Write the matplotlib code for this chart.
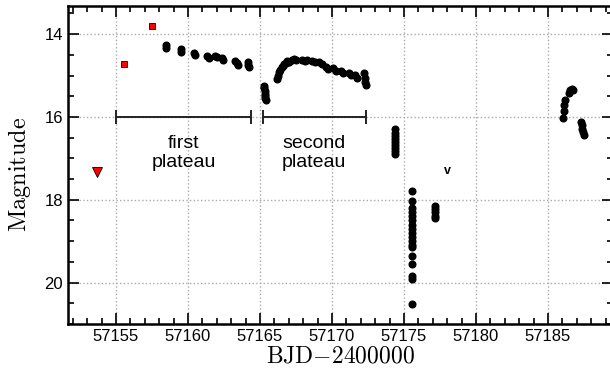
import matplotlib
matplotlib.use('Agg')
import matplotlib.pyplot as plt
from matplotlib.ticker import MultipleLocator

plt.rcParams['font.family'] = ['Liberation Sans', 'DejaVu Sans']
plt.rcParams['mathtext.fontset'] = 'cm'

# Photometry (BJD-2400000, magnitude)
pre_x = [57155.55, 57157.5]
pre_y = [14.72, 13.81]
limit_x = [57153.7]
limit_y = [17.34]

plateau1_x = [57158.45, 57158.5, 57159.5, 57159.55, 57160.45, 57160.5, 57161.35, 57161.45,
              57161.9, 57162.0, 57162.35, 57162.4, 57163.3, 57163.4, 57163.5, 57164.15,
              57164.2, 57164.25]
plateau1_y = [14.27, 14.33, 14.37, 14.42, 14.46, 14.51, 14.53, 14.57,
              14.52, 14.56, 14.58, 14.62, 14.66, 14.70, 14.74, 14.68,
              14.74, 14.79]

dip_x = [57165.3, 57165.3, 57165.32, 57165.35, 57165.35, 57165.38, 57165.4]
dip_y = [15.24, 15.30, 15.38, 15.45, 15.50, 15.55, 15.59]

plateau2_x = [57166.2, 57166.25, 57166.3, 57166.4, 57166.5, 57166.6, 57166.7, 57166.8,
              57166.9, 57167.0, 57167.2, 57167.35, 57167.5, 57167.9, 57168.1, 57168.3,
              57168.6, 57168.8, 57169.1, 57169.3, 57169.6, 57169.7, 57170.1, 57170.3,
              57170.6, 57170.8, 57171.2, 57171.3, 57171.6, 57171.75, 57172.25, 57172.3,
              57172.3, 57172.35]
plateau2_y = [15.08, 15.00, 14.92, 14.86, 14.80, 14.76, 14.72, 14.70,
              14.66, 14.68, 14.63, 14.60, 14.62, 14.63, 14.65, 14.63,
              14.66, 14.68, 14.68, 14.72, 14.80, 14.84, 14.82, 14.88,
              14.88, 14.93, 14.93, 14.99, 14.98, 15.05, 14.95, 15.05,
              15.15, 15.22]

fall_x = [57174.4] * 9 + [57175.53] * 18 + [57177.15] * 5
fall_y = [16.30, 16.38, 16.45, 16.52, 16.60, 16.68, 16.75, 16.82, 16.90,
          17.78, 18.02, 18.20, 18.30, 18.40, 18.50, 18.60, 18.70, 18.80, 18.90,
          19.00, 19.10, 19.15, 19.35, 19.55, 19.85, 19.92, 20.52,
          18.15, 18.22, 18.30, 18.38, 18.45]

late_x = [57186.05, 57186.1, 57186.15, 57186.2, 57186.45, 57186.55, 57186.65, 57186.75,
          57187.3, 57187.35, 57187.4, 57187.45, 57187.5]
late_y = [16.02, 15.85, 15.70, 15.58, 15.42, 15.36, 15.33, 15.36,
          16.12, 16.20, 16.28, 16.36, 16.43]

# plateau brackets
plateau_start = [57155.0, 57165.2]
plateau_end = [57164.4, 57172.35]
plateau_mag = 16.0
plateau_names = ['first\nplateau', 'second\nplateau']

fig = plt.figure(figsize=(6.1, 3.71), dpi=100)
ax = fig.add_axes([68 / 610, 47 / 371, 545 / 610, 318 / 371])

all_x = plateau1_x + dip_x + plateau2_x + fall_x + late_x
all_y = plateau1_y + dip_y + plateau2_y + fall_y + late_y
ax.plot(all_x, all_y, 'o', color='black', ms=4.8, zorder=3)
ax.plot(pre_x, pre_y, 's', color='red', mec='black', mew=0.6, ms=5, zorder=3)
ax.plot(limit_x, limit_y, 'v', color='red', mec='black', mew=0.6, ms=6.5, zorder=3)

for s, e, name in zip(plateau_start, plateau_end, plateau_names):
    c = (s + e) / 2
    ax.errorbar(c, plateau_mag, xerr=(e - s) / 2, fmt='none', ecolor='#222222',
                elinewidth=1.4, capsize=5, capthick=1.4, zorder=2)
    ax.text(c, plateau_mag + 0.88, name, ha='center', va='center', fontsize=14,
            linespacing=1.15)

ax.text(57178.0, 17.3, 'v', ha='center', va='center', fontsize=9, fontweight='bold')

ax.set_xlim(57151.67, 57189.52)
ax.set_ylim(21.0, 13.32)
ax.xaxis.set_major_locator(MultipleLocator(5))
ax.xaxis.set_minor_locator(MultipleLocator(1))
ax.yaxis.set_major_locator(MultipleLocator(2))
ax.yaxis.set_minor_locator(MultipleLocator(0.5))
ax.tick_params(which='both', direction='in', top=True, right=True, labelsize=12, width=1.2)
ax.tick_params(which='major', length=8)
ax.tick_params(which='minor', length=4)
for sp in ax.spines.values():
    sp.set_linewidth(1.8)
ax.grid(True, which='major', linestyle=':', color='#aaaaaa', linewidth=1.0)
ax.set_axisbelow(True)

ax.set_xlabel(r'$\mathrm{BJD{-}2400000}$', fontsize=17, labelpad=1)
ax.set_ylabel(r'$\mathrm{Magnitude}$', fontsize=17.5, labelpad=8, y=0.47)

fig.savefig('out.png', dpi=100)
